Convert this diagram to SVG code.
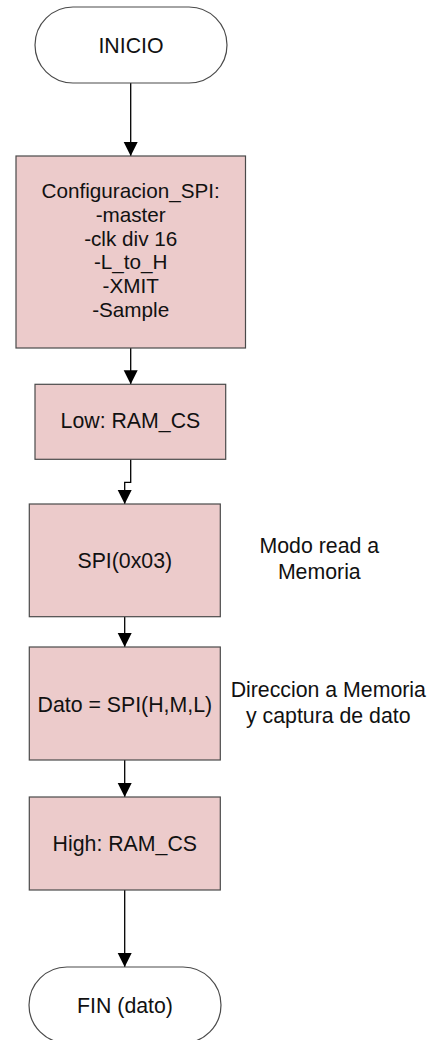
<svg xmlns="http://www.w3.org/2000/svg" width="439" height="1040" viewBox="0 0 439 1040">
<defs>
<style>
.box{fill:#ECCBCB;stroke:#4a4a4a;stroke-width:1.2}
.term{fill:#ffffff;stroke:#4a4a4a;stroke-width:1.2}
.t{font-family:"Liberation Sans",Arial,sans-serif;font-size:21.3px;fill:#111;text-anchor:middle}
.tc{font-family:"Liberation Sans",Arial,sans-serif;font-size:20.7px;fill:#111;text-anchor:middle}
.c{fill:none;stroke:#000;stroke-width:1.3}
</style>
<marker id="arr" markerUnits="userSpaceOnUse" markerWidth="16" markerHeight="16" viewBox="0 0 16 16" refX="14" refY="7" orient="auto">
<polygon points="0,0 14,7 0,14" fill="#000"/>
</marker>
</defs>
<rect width="439" height="1040" fill="#ffffff"/>
<g id="connectors">
<path class="c" d="M130.7,83 V156" marker-end="url(#arr)"/>
<path class="c" d="M130.7,348 V384.3" marker-end="url(#arr)"/>
<path class="c" d="M130.7,459.3 V482.3 H124.7 V504" marker-end="url(#arr)"/>
<path class="c" d="M124.7,616.7 V647" marker-end="url(#arr)"/>
<path class="c" d="M124.7,760 V797" marker-end="url(#arr)"/>
<path class="c" d="M124.7,890 V967" marker-end="url(#arr)"/>
</g>
<g id="inicio">
<rect class="term" x="35" y="7" width="192" height="76" rx="38" ry="38"/>
<text class="t" x="131" y="52.5">INICIO</text>
</g>
<g id="config">
<rect class="box" x="16" y="156" width="229.5" height="192"/>
<text class="tc" x="130.7" y="198.3">Configuracion_SPI:</text>
<text class="tc" x="130.7" y="222">-master</text>
<text class="tc" x="130.7" y="245.7">-clk div 16</text>
<text class="tc" x="130.7" y="269.4">-L_to_H</text>
<text class="tc" x="130.7" y="293.1">-XMIT</text>
<text class="tc" x="130.7" y="316.8">-Sample</text>
</g>
<g id="low">
<rect class="box" x="35" y="384.3" width="190.7" height="75"/>
<text class="t" x="130.4" y="427.7">Low: RAM_CS</text>
</g>
<g id="spi">
<rect class="box" x="29.3" y="504" width="191" height="112.7"/>
<text class="t" x="124.8" y="567.7">SPI(0x03)</text>
</g>
<g id="label-modo">
<text class="t" x="319.3" y="553.3">Modo read a</text>
<text class="t" x="319.3" y="579">Memoria</text>
</g>
<g id="dato">
<rect class="box" x="29.3" y="647" width="191" height="113"/>
<text class="t" x="124.8" y="711.7">Dato = SPI(H,M,L)</text>
</g>
<g id="label-direccion">
<text class="t" x="328.3" y="697.3">Direccion a Memoria</text>
<text class="t" x="328.3" y="722.7">y captura de dato</text>
</g>
<g id="high">
<rect class="box" x="29.3" y="797" width="191" height="93"/>
<text class="t" x="124.8" y="850.7">High: RAM_CS</text>
</g>
<g id="fin">
<rect class="term" x="29" y="967" width="192" height="76" rx="38" ry="38"/>
<text class="t" x="125" y="1012.7">FIN (dato)</text>
</g>
</svg>
